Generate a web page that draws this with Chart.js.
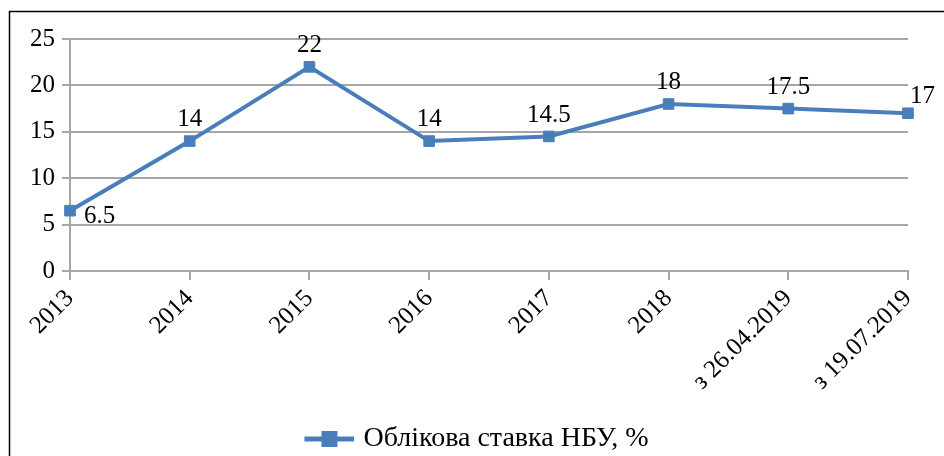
<!DOCTYPE html>
<html>
<head>
<meta charset="utf-8">
<script src="https://cdn.jsdelivr.net/npm/chart.js@4"></script>
<style>
  html, body { margin: 0; padding: 0; background: #fff; }
  #wrap { position: relative; width: 944px; height: 456px; }
</style>
</head>
<body>
<div id="wrap"><canvas id="chart" width="944" height="456"></canvas></div>
<script>
  // Chart data
  const categories = ['2013', '2014', '2015', '2016', '2017', '2018', 'з 26.04.2019', 'з 19.07.2019'];
  const rateValues = [6.5, 14, 22, 14, 14.5, 18, 17.5, 17];
  const yTicks = [0, 5, 10, 15, 20, 25];
  const seriesName = 'Облікова ставка НБУ, %';

  const LINE_COLOR = '#4a7ebb';
  const GRID_COLOR = '#a6a6a6';
  const FONT = "'Liberation Serif', 'Times New Roman', serif";

  // Legend marker: line with a square in the middle, drawn at the right
  // side of a wider transparent image so the legend sits like the original
  function legendMarker() {
    const c = document.createElement('canvas');
    c.width = 100;
    c.height = 18;
    const g = c.getContext('2d');
    g.strokeStyle = LINE_COLOR;
    g.lineWidth = 5;
    g.beginPath();
    g.moveTo(50, 9);
    g.lineTo(100, 9);
    g.stroke();
    g.fillStyle = LINE_COLOR;
    g.fillRect(67, 1, 16, 16);
    return c;
  }

  // Outer frame around the chart
  const framePlugin = {
    id: 'frame',
    beforeDraw(chart) {
      const ctx = chart.ctx;
      ctx.save();
      ctx.fillStyle = '#fff';
      ctx.fillRect(0, 0, chart.width, chart.height);
      ctx.strokeStyle = '#000';
      ctx.lineWidth = 1.5;
      ctx.strokeRect(9.5, 11.5, chart.width + 10, chart.height + 10);
      ctx.restore();
    }
  };

  // Value labels next to each point
  const valueLabels = {
    id: 'valueLabels',
    afterDatasetsDraw(chart, args, opts) {
      const ctx = chart.ctx;
      const meta = chart.getDatasetMeta(0);
      const values = chart.data.datasets[0].data;
      ctx.save();
      ctx.font = opts.font;
      ctx.fillStyle = '#000';
      meta.data.forEach((pt, i) => {
        const side = opts.side[i] || 'above';
        if (side === 'right-below') {
          ctx.textAlign = 'left';
          ctx.textBaseline = 'middle';
          ctx.fillText(String(values[i]), pt.x + 14, pt.y + 6);
        } else if (side === 'right-above') {
          ctx.textAlign = 'left';
          ctx.textBaseline = 'bottom';
          ctx.fillText(String(values[i]), pt.x + 2, pt.y - 4);
        } else {
          ctx.textAlign = 'center';
          ctx.textBaseline = 'bottom';
          ctx.fillText(String(values[i]), pt.x, pt.y - 9);
        }
      });
      ctx.restore();
    }
  };

  new Chart(document.getElementById('chart'), {
    type: 'line',
    data: {
      labels: categories,
      datasets: [{
        label: seriesName,
        data: rateValues,
        borderColor: LINE_COLOR,
        backgroundColor: LINE_COLOR,
        borderWidth: 4,
        pointStyle: 'rect',
        pointRadius: 7.5,
        pointBorderWidth: 1,
        tension: 0,
        fill: false
      }]
    },
    options: {
      responsive: false,
      animation: false,
      layout: { padding: { top: 39, right: 36, left: 0, bottom: -7 } },
      scales: {
        x: {
          offset: false,
          afterFit(scale) { scale.height = 146; },
          border: { color: GRID_COLOR, width: 2 },
          grid: { drawOnChartArea: false, drawTicks: true, tickLength: 9, color: GRID_COLOR, lineWidth: 2 },
          ticks: {
            minRotation: 45,
            maxRotation: 45,
            autoSkip: false,
            padding: 4,
            color: '#000',
            font: { family: FONT, size: 25 }
          }
        },
        y: {
          min: 0,
          max: 25,
          afterFit(scale) { scale.width = 70; },
          afterBuildTicks(scale) { scale.ticks = yTicks.map(v => ({ value: v })); },
          border: { color: GRID_COLOR, width: 2 },
          grid: { color: GRID_COLOR, lineWidth: 2, tickLength: 8 },
          ticks: {
            padding: 7,
            color: '#000',
            font: { family: FONT, size: 25 }
          }
        }
      },
      plugins: {
        legend: {
          position: 'bottom',
          labels: {
            usePointStyle: true,
            pointStyleWidth: 90,
            padding: 8,
            color: '#000',
            font: { family: FONT, size: 28 },
            generateLabels(chart) {
              return [{
                text: seriesName,
                pointStyle: legendMarker(),
                fillStyle: LINE_COLOR,
                strokeStyle: LINE_COLOR,
                lineWidth: 0,
                datasetIndex: 0
              }];
            }
          }
        },
        tooltip: { enabled: false },
        valueLabels: {
          font: '25px ' + FONT,
          side: ['right-below', 'above', 'above', 'above', 'above', 'above', 'above', 'right-above']
        }
      }
    },
    plugins: [framePlugin, valueLabels]
  });
</script>
</body>
</html>
